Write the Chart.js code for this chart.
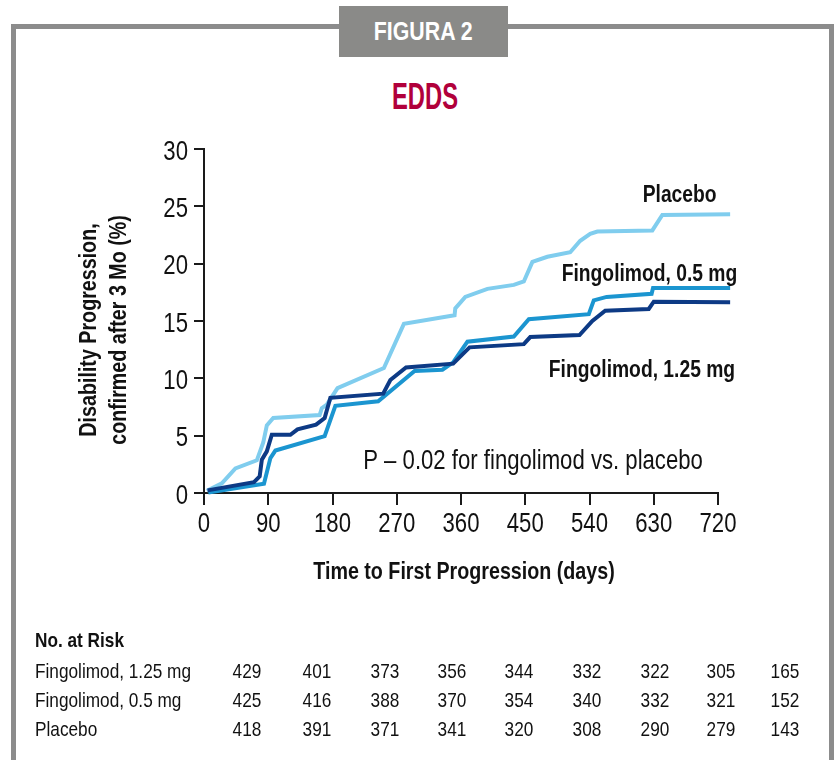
<!DOCTYPE html>
<html>
<head>
<meta charset="utf-8">
<script src="https://cdn.jsdelivr.net/npm/chart.js@4.4.1/dist/chart.umd.min.js"></script>
<style>
  html, body { margin: 0; padding: 0; background: #fff; }
  body { width: 836px; height: 760px; position: relative; overflow: hidden;
         font-family: "Liberation Sans", Arial, sans-serif; color: #111; }
  #frame { position: absolute; left: 11px; top: 24px; width: 813px; height: 800px;
           border: 5px solid #8c8c8c; border-bottom: none; }
  #tab { position: absolute; left: 339px; top: 6px; width: 169px; height: 51px; background: #8a8a88;
         color: #fff; text-align: center; line-height: 51px; }
  #tab span { display: inline-block; font-weight: bold; font-size: 26px; transform: scaleX(0.82); }
  #title { position: absolute; left: 325px; top: 77px; width: 200px; text-align: center; line-height: 40px; }
  #title span { display: inline-block; color: #b1003b; font-weight: bold; font-size: 36px; transform: scaleX(0.66); }
  canvas { position: absolute; left: 0; top: 0; }
  .cell { position: absolute; font-size: 21px; line-height: 24px; white-space: nowrap;
          transform: scaleX(0.82); transform-origin: 0 50%; }
  .num { width: 60px; text-align: center; transform-origin: 50% 50%; }
</style>
</head>
<body>
<div id="frame"></div>
<div id="tab"><span>FIGURA 2</span></div>
<div id="title"><span>EDDS</span></div>
<canvas id="chart" width="836" height="760"></canvas>
<div id="risk"></div>
<script>
// ---- datos ----
const placeboDays = [4, 25, 44, 74, 83, 88, 97, 162, 165, 172, 187, 252, 280, 351, 352, 366, 397, 434, 448, 460, 481, 513, 527, 541, 551, 628, 642, 737];
const placeboPct  = [0.2, 0.85, 2.15, 2.85, 4.4, 5.9, 6.55, 6.8, 7.4, 7.7, 9.15, 10.9, 14.75, 15.5, 16.1, 17.1, 17.8, 18.15, 18.45, 20.15, 20.6, 21.0, 22.0, 22.6, 22.8, 22.9, 24.25, 24.3];

const fingo05Days = [6, 84, 93, 100, 169, 184, 244, 295, 334, 349, 369, 434, 455, 539, 546, 564, 627, 629, 737];
const fingo05Pct  = [0.05, 0.8, 3.05, 3.7, 4.95, 7.6, 8.0, 10.65, 10.75, 11.4, 13.2, 13.65, 15.15, 15.6, 16.8, 17.1, 17.37, 17.87, 17.87];

const fingo125Days = [5, 70, 78, 81, 88, 95, 121, 131, 157, 169, 177, 251, 261, 283, 349, 372, 448, 457, 526, 544, 562, 623, 630, 737];
const fingo125Pct  = [0.23, 0.95, 1.45, 2.9, 3.63, 5.08, 5.08, 5.55, 5.96, 6.54, 8.3, 8.66, 9.85, 10.95, 11.28, 12.7, 12.98, 13.6, 13.78, 15.0, 15.9, 16.05, 16.68, 16.63];

const xTicks = [0, 90, 180, 270, 360, 450, 540, 630, 720];
const yTicks = [0, 5, 10, 15, 20, 25, 30];

const riskLabels   = ['Fingolimod, 1.25 mg', 'Fingolimod, 0.5 mg', 'Placebo'];
const risk125      = [429, 401, 373, 356, 344, 332, 322, 305, 165];
const risk05       = [425, 416, 388, 370, 354, 340, 332, 321, 152];
const riskPlacebo  = [418, 391, 371, 341, 320, 308, 290, 279, 143];

// ---- layout ----
const FONT = '"Liberation Sans", Arial, sans-serif';
const NARROW = 0.82;   // compresión horizontal (aspecto "narrow")
const INK = '#111';
const riskCols = [247, 317, 385, 452, 519, 587, 655, 721, 785];
const riskRows = [671, 700, 729];

function pts(days, vals) {
  return days.map((d, i) => ({ x: d, y: vals[i] }));
}

function narrowText(ctx, text, x, y, align, font, rot) {
  ctx.save();
  ctx.translate(x, y);
  if (rot) ctx.rotate(rot);
  ctx.scale(NARROW, 1);
  ctx.font = font;
  ctx.textAlign = align;
  ctx.fillText(text, 0, 0);
  ctx.restore();
}

// textos del gráfico: etiquetas de ejes, series y p-valor
const labelsPlugin = {
  id: 'labels',
  afterDraw(chart) {
    const { ctx, scales: { x, y } } = chart;
    ctx.save();
    ctx.fillStyle = INK;
    ctx.textBaseline = 'alphabetic';

    const tickFont = '27px ' + FONT;
    x.ticks.forEach(t => narrowText(ctx, String(t.value), x.getPixelForValue(t.value), 532, 'center', tickFont));
    y.ticks.forEach(t => narrowText(ctx, String(t.value), 188, y.getPixelForValue(t.value) + 10.5, 'right', tickFont));

    const bold = 'bold 23.5px ' + FONT;
    narrowText(ctx, 'Placebo', x.getPixelForValue(718), y.getPixelForValue(26.1) + 8, 'right', bold);
    narrowText(ctx, 'Fingolimod, 0.5 mg', x.getPixelForValue(747), y.getPixelForValue(19.2) + 8, 'right', bold);
    narrowText(ctx, 'Fingolimod, 1.25 mg', x.getPixelForValue(744), y.getPixelForValue(10.85) + 8, 'right', bold);

    narrowText(ctx, 'P \u2013 0.02 for fingolimod vs. placebo', x.getPixelForValue(223), y.getPixelForValue(3.0) + 10, 'left', '27px ' + FONT);

    const titleFont = 'bold 24px ' + FONT;
    narrowText(ctx, 'Time to First Progression (days)', 464, 579, 'center', titleFont);
    narrowText(ctx, 'Disability Progression,', 96, 330, 'center', titleFont, -Math.PI / 2);
    narrowText(ctx, 'confirmed after 3 Mo (%)', 126, 330, 'center', titleFont, -Math.PI / 2);
    ctx.restore();
  }
};

const lineStyle = { borderWidth: 4, pointRadius: 0, tension: 0, clip: false, fill: false };

new Chart(document.getElementById('chart'), {
  type: 'line',
  data: {
    datasets: [
      { label: 'Fingolimod, 1.25 mg', data: pts(fingo125Days, fingo125Pct), borderColor: '#0d3a85', ...lineStyle },
      { label: 'Fingolimod, 0.5 mg', data: pts(fingo05Days, fingo05Pct), borderColor: '#1b95d0', ...lineStyle },
      { label: 'Placebo', data: pts(placeboDays, placeboPct), borderColor: '#80cdee', ...lineStyle }
    ]
  },
  options: {
    responsive: false,
    animation: false,
    devicePixelRatio: 1,
    layout: { padding: { top: 149, left: 0, right: 118, bottom: 0 } },
    plugins: { legend: { display: false }, tooltip: { enabled: false } },
    scales: {
      x: {
        type: 'linear', min: 0, max: 720,
        afterBuildTicks: s => { s.ticks = xTicks.map(v => ({ value: v })); },
        afterFit: s => { s.height = 267; },
        ticks: { display: false },
        grid: { drawOnChartArea: false, drawTicks: true, tickLength: 12, color: '#1a1a1a', lineWidth: 2 },
        border: { display: true, color: '#1a1a1a', width: 2 }
      },
      y: {
        type: 'linear', min: 0, max: 30,
        afterBuildTicks: s => { s.ticks = yTicks.map(v => ({ value: v })); },
        afterFit: s => { s.width = 204; },
        ticks: { display: false },
        grid: { drawOnChartArea: false, drawTicks: true, tickLength: 10, color: '#1a1a1a', lineWidth: 2 },
        border: { display: true, color: '#1a1a1a', width: 2 }
      }
    }
  },
  plugins: [labelsPlugin]
});

// tabla de pacientes en riesgo
const risk = document.getElementById('risk');
function cell(text, left, cy, cls, bold) {
  const d = document.createElement('div');
  d.className = 'cell ' + (cls || '');
  d.textContent = text;
  d.style.left = left + 'px';
  d.style.top = (cy - 12) + 'px';
  if (bold) d.style.fontWeight = 'bold';
  risk.appendChild(d);
}
cell('No. at Risk', 35, 640, '', true);
[risk125, risk05, riskPlacebo].forEach((row, r) => {
  cell(riskLabels[r], 35, riskRows[r]);
  row.forEach((n, i) => cell(String(n), riskCols[i] - 30, riskRows[r], 'num'));
});
</script>
</body>
</html>
